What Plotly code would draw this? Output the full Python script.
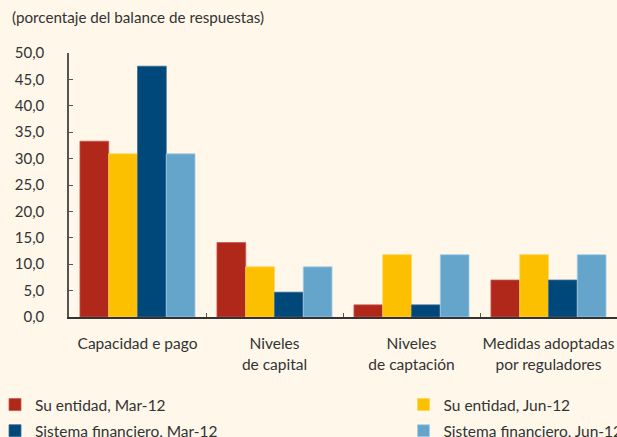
import plotly.graph_objects as go

categories = ["Capacidad e pago", "Niveles<br>de capital", "Niveles<br>de captación", "Medidas adoptadas<br>por reguladores"]
series_names = ["Su entidad, Mar-12", "Su entidad, Jun-12", "Sistema financiero, Mar-12", "Sistema financiero, Jun-12"]
su_mar = [33.3, 14.1, 2.3, 7.0]
su_jun = [30.9, 9.5, 11.8, 11.8]
sis_mar = [47.5, 4.7, 2.3, 7.0]
sis_jun = [30.9, 9.5, 11.8, 11.8]
y_ticks = [0, 5, 10, 15, 20, 25, 30, 35, 40, 45, 50]

colors = ["#B0281A", "#FCC000", "#00477A", "#65A5CC"]
edge = ["#C9574B", "#FDD65A", "#3C6E95", "#A9CDE3"]
bg = "#FEF7EA"
font_family = "Lato, Open Sans, sans-serif"

fig = go.Figure()
values = [su_mar, su_jun, sis_mar, sis_jun]
legends = ["legend", "legend2", "legend", "legend2"]
for i in range(4):
    fig.add_trace(go.Bar(
        x=categories, y=values[i], name=series_names[i],
        marker=dict(color=colors[i], line=dict(color=edge[i], width=0.8)),
        legend=legends[i], legendgroup=str(i),
    ))

fig.update_layout(
    width=617, height=437,
    margin=dict(l=69, r=0, t=53, b=120, autoexpand=False),
    paper_bgcolor=bg, plot_bgcolor=bg,
    barmode="group", bargap=0.16, bargroupgap=0,
    separators=",.",
    font=dict(family=font_family, size=15, color="#333333"),
    showlegend=True,
    title=dict(text="(porcentaje del balance de respuestas)", xref="container", yref="container",
               x=12 / 617, y=1 - 18 / 437, xanchor="left", yanchor="middle",
               font=dict(size=15.2, color="#333333")),
    legend=dict(xref="paper", yref="container", x=(-5 - 69) / 548, y=1 - 388 / 437,
                xanchor="left", yanchor="top", bgcolor="rgba(0,0,0,0)",
                font=dict(size=15.5, color="#333333"), tracegroupgap=3, itemwidth=30),
    legend2=dict(xref="container", yref="container", x=0.654, y=1 - 388 / 437,
                 xanchor="left", yanchor="top", bgcolor="rgba(0,0,0,0)",
                 font=dict(size=15.5, color="#333333"), tracegroupgap=3, itemwidth=30),
)

fig.update_xaxes(
    showline=True, linecolor="#333333", linewidth=1.5,
    ticks="inside", ticklen=4, tickcolor="#555555", tickson="boundaries",
    showgrid=False, tickfont=dict(size=15.5, color="#333333"),
    ticklabelstandoff=12, tickangle=0, automargin=False,
)
fig.update_yaxes(
    range=[0, 50], tickvals=y_ticks, tickformat=".1f",
    showline=True, linecolor="#555555", linewidth=1.5,
    ticks="inside", ticklen=4, tickcolor="#555555",
    showgrid=False, zeroline=False, tickfont=dict(size=15, color="#333333"),
    ticklabelstandoff=20, automargin=False,
)

fig.write_html("out.html", config={"displayModeBar": False},
               post_script="document.body.style.margin='0px';")
